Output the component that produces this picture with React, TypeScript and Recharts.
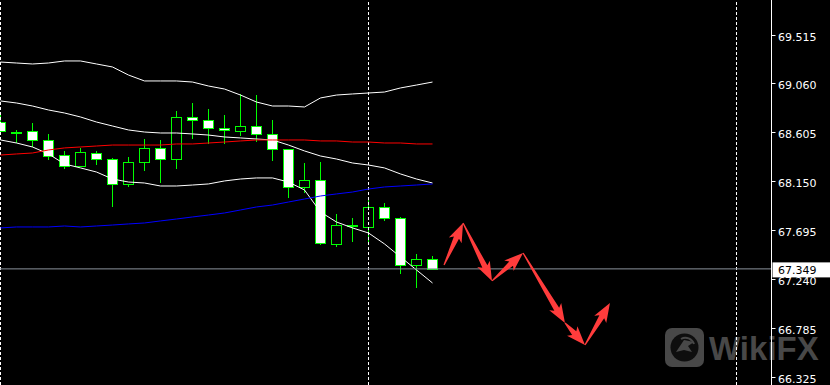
import React from 'react';
import { ComposedChart, Bar, Line, XAxis, YAxis, ReferenceLine } from 'recharts';

// ---- data ----
const opens = [68.715, 68.622, 68.632, 68.548, 68.408, 68.306, 68.427, 68.371, 68.139, 68.343, 68.473, 68.371, 68.762, 68.734, 68.659, 68.632, 68.678, 68.604, 68.464, 68.111, 68.176, 67.581, 67.757, 67.739, 67.925, 67.822, 67.385, 67.441];
const highs = [68.780, 68.641, 68.706, 68.604, 68.446, 68.473, 68.446, 68.380, 68.390, 68.557, 68.548, 68.818, 68.892, 68.836, 68.780, 68.976, 68.966, 68.734, 68.464, 68.334, 68.343, 67.860, 67.822, 68.018, 67.962, 67.832, 67.488, 67.469];
const lows = [68.613, 68.520, 68.483, 68.362, 68.278, 68.306, 68.315, 67.925, 68.111, 68.260, 68.148, 68.278, 68.557, 68.511, 68.511, 68.585, 68.529, 68.353, 68.008, 68.055, 67.571, 67.553, 67.599, 67.581, 67.795, 67.302, 67.171, 67.349];
const closes = [68.632, 68.613, 68.548, 68.399, 68.306, 68.436, 68.371, 68.139, 68.343, 68.473, 68.371, 68.762, 68.734, 68.659, 68.641, 68.678, 68.604, 68.464, 68.111, 68.176, 67.590, 67.757, 67.757, 67.925, 67.822, 67.385, 67.441, 67.349];

const bbUpper = [69.273, 69.264, 69.255, 69.264, 69.283, 69.283, 69.255, 69.227, 69.152, 69.097, 69.097, 69.097, 69.087, 69.050, 69.022, 68.966, 68.901, 68.864, 68.864, 68.855, 68.939, 68.966, 68.976, 68.985, 68.994, 69.032, 69.059, 69.087];
const bbMiddle = [68.911, 68.892, 68.864, 68.827, 68.799, 68.762, 68.715, 68.678, 68.641, 68.622, 68.613, 68.613, 68.604, 68.594, 68.576, 68.567, 68.557, 68.548, 68.501, 68.446, 68.399, 68.371, 68.334, 68.315, 68.288, 68.232, 68.185, 68.148];
const bbLower = [68.548, 68.520, 68.483, 68.418, 68.325, 68.288, 68.250, 68.185, 68.157, 68.148, 68.120, 68.120, 68.129, 68.139, 68.167, 68.185, 68.195, 68.195, 68.157, 68.083, 67.878, 67.785, 67.730, 67.683, 67.581, 67.460, 67.339, 67.218];
const maRed = [68.408, 68.418, 68.427, 68.455, 68.474, 68.483, 68.492, 68.501, 68.501, 68.501, 68.501, 68.511, 68.511, 68.520, 68.529, 68.539, 68.548, 68.548, 68.548, 68.548, 68.539, 68.539, 68.529, 68.529, 68.520, 68.520, 68.511, 68.511];
const maBlue = [67.730, 67.739, 67.739, 67.739, 67.748, 67.739, 67.748, 67.757, 67.767, 67.776, 67.795, 67.813, 67.832, 67.850, 67.869, 67.897, 67.925, 67.943, 67.971, 67.999, 68.027, 68.046, 68.064, 68.092, 68.111, 68.120, 68.129, 68.139];

const priceTicks = [69.515, 69.06, 68.605, 68.15, 67.695, 67.24, 66.785, 66.325];
const lastPrice = 67.349;
const gridIndices = [0, 23, 46];
const arrowPath = [
  { i: 27.72, p: 67.385 },
  { i: 28.91, p: 67.776 },
  { i: 30.72, p: 67.237 },
  { i: 32.66, p: 67.497 },
  { i: 35.28, p: 66.846 },
  { i: 36.53, p: 66.641 },
  { i: 38.09, p: 67.032 },
];

const rows = opens.map((o, i) => ({
  i,
  open: o,
  high: highs[i],
  low: lows[i],
  close: closes[i],
  range: [lows[i], highs[i]],
  up: bbUpper[i],
  mid: bbMiddle[i],
  lo: bbLower[i],
  red: maRed[i],
  blue: maBlue[i],
}));

const GREEN = '#00ff00';

const Candle = (props: any) => {
  const { x, y, width, height, payload } = props;
  if (!payload || height == null) return null;
  const { open, high, low, close } = payload;
  const k = high - low > 0 ? height / (high - low) : 0;
  const cx = x + width / 2;
  const py = (v: number) => y + (high - v) * k;
  const yH = py(high);
  const yL = py(low);
  const yO = py(open);
  const yC = py(close);
  const top = Math.round(Math.min(yO, yC)) + 0.5;
  const bot = Math.round(Math.max(yO, yC)) + 0.5;
  const bear = close < open;
  return (
    <g>
      <line x1={cx} x2={cx} y1={Math.round(yH)} y2={Math.round(yL)} stroke={GREEN} strokeWidth={1} />
      {bot - top < 1.5 ? (
        <rect x={cx - 5.5} y={top - 0.5} width={11} height={2} fill={GREEN} />
      ) : (
        <rect x={cx - 5} y={top} width={10} height={bot - top} fill={bear ? '#ffffff' : '#000000'} stroke={GREEN} strokeWidth={1} />
      )}
    </g>
  );
};

const PriceTick = (props: any) => {
  const { x, y, payload } = props;
  const v = payload.value;
  if (Math.abs(v - lastPrice) < 1e-6) {
    return (
      <g>
        <rect x={x + 1} y={y - 6.5} width={60} height={15} fill="#ffffff" />
        <text x={x + 6.5} y={y + 1.5} dominantBaseline="central" fill="#000000" fontFamily="DejaVu Sans" fontSize={11}>
          {v.toFixed(3)}
        </text>
      </g>
    );
  }
  return (
    <g>
      <line x1={x} x2={x + 4} y1={Math.round(y - 1.5) + 0.5} y2={Math.round(y - 1.5) + 0.5} stroke="#ffffff" strokeWidth={1} />
      <text x={x + 6.5} y={y + 1} dominantBaseline="central" fill="#ffffff" fontFamily="DejaVu Sans" fontSize={11}>
        {v.toFixed(3)}
      </text>
    </g>
  );
};

const arrowShape = (props: any) => {
  const { x1, y1, x2, y2 } = props;
  const dx = x2 - x1;
  const dy = y2 - y1;
  const L = Math.hypot(dx, dy) || 1;
  const ux = dx / L;
  const uy = dy / L;
  const nx = -uy;
  const ny = ux;
  const h = 16;
  const hw = 7;
  const sw = 2.8;
  const tw = 0.6;
  const bx = x2 - ux * h;
  const by = y2 - uy * h;
  const pts = [
    [x1 + nx * tw, y1 + ny * tw],
    [bx + nx * sw, by + ny * sw],
    [bx - ux * 3 + nx * hw, by - uy * 3 + ny * hw],
    [x2, y2],
    [bx - ux * 3 - nx * hw, by - uy * 3 - ny * hw],
    [bx - nx * sw, by - ny * sw],
    [x1 - nx * tw, y1 - ny * tw],
  ];
  return <polygon points={pts.map((p) => p.join(',')).join(' ')} fill="#ff3c3c" />;
};

const Watermark = () => (
  <svg width={830} height={385} style={{ position: 'absolute', left: 0, top: 0 }}>
    <rect x={665} y={328} width={39} height={39} rx={7} fill="#484848" />
    <circle cx={684.5} cy={347.5} r={14} fill="#0e0e0e" />
    <path d="M676 352 L684 340 L694 342 L688 346 L692 352 L684 350 Z" fill="#484848" />
    <path d="M681 339 A9 9 0 0 1 694 344" stroke="#484848" strokeWidth={2} fill="none" />
    <text x={709} y={360} fontFamily="Liberation Sans" fontWeight="bold" fontSize={33} fill="#484848">
      WikiFX
    </text>
  </svg>
);

export default function App() {
  return (
    <div style={{ position: 'fixed', left: 0, top: 0, width: 830, height: 385, background: '#000000', overflow: 'hidden' }}>
      <Watermark />
      <ComposedChart width={830} height={385} data={rows} margin={{ top: 0, right: 0, bottom: 0, left: 0 }}>
        <XAxis dataKey="i" type="number" scale="linear" domain={[-0.03125, 48.1875]} allowDataOverflow hide />
        <YAxis
          orientation="right"
          width={58.5}
          domain={[66.269, 69.85]}
          allowDataOverflow
          ticks={[...priceTicks, lastPrice]}
          interval={0}
          tick={<PriceTick />}
          tickLine={false}
          tickSize={0}
          tickMargin={0}
          axisLine={{ stroke: '#ffffff', strokeWidth: 1 }}
        />
        {gridIndices.map((g) => (
          <ReferenceLine key={g} x={g} stroke="#ffffff" strokeDasharray="3 2" ifOverflow="visible" />
        ))}
        <Line dataKey="up" stroke="#ffffff" strokeWidth={1} dot={false} activeDot={false} isAnimationActive={false} />
        <Line dataKey="mid" stroke="#ffffff" strokeWidth={1} dot={false} activeDot={false} isAnimationActive={false} />
        <Line dataKey="lo" stroke="#ffffff" strokeWidth={1} dot={false} activeDot={false} isAnimationActive={false} />
        <Line dataKey="red" stroke="#ff0000" strokeWidth={1} dot={false} activeDot={false} isAnimationActive={false} />
        <Line dataKey="blue" stroke="#0000ff" strokeWidth={1} dot={false} activeDot={false} isAnimationActive={false} />
        <Bar dataKey="range" barSize={10} shape={<Candle />} activeBar={false} isAnimationActive={false} />
        <ReferenceLine y={lastPrice} stroke="#8b929c" strokeWidth={1} />
        {arrowPath.slice(1).map((b, n) => {
          const a = arrowPath[n];
          return (
            <ReferenceLine
              key={n}
              segment={[{ x: a.i, y: a.p }, { x: b.i, y: b.p }]}
              ifOverflow="visible"
              shape={arrowShape}
            />
          );
        })}
      </ComposedChart>
    </div>
  );
}
